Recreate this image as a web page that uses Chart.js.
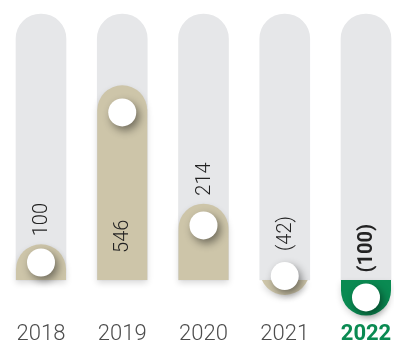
<!DOCTYPE html>
<html>
<head>
<meta charset="utf-8">
<script src="https://cdn.jsdelivr.net/npm/chart.js@4.4.1/dist/chart.umd.min.js"></script>
<style>
  html, body { margin: 0; padding: 0; background: #fff; }
  #wrap { width: 394px; height: 350px; }
</style>
</head>
<body>
<div id="wrap"><canvas id="resultChart"></canvas></div>
<script>
// yearly result, negatives shown in brackets
const years = ['2018', '2019', '2020', '2021', '2022'];
const results = [100, 546, 214, -42, -100];
// where the white knob sits on each bar
const knobs = [49, 470, 153, 11, -49];
// full height of the grey track behind every bar
const track = [746, 746, 746, 746, 746];

const TAN = '#cdc5a9';
const GREEN = '#0a8a52';
const GREY = '#e6e7e9';
const FONT = 'Roboto, "Liberation Sans", Arial, sans-serif';
const R = 25;        // bar half width / cap radius
const KNOB = 14;

const isLast = i => i === years.length - 1;
const fmt = v => v < 0 ? '(' + Math.abs(v) + ')' : String(v);

// filled bar with a round end, clipped flat at the zero line
function capPath(ctx, len) {
    const cy = -len + R;
    ctx.beginPath();
    if (len >= R) {
        ctx.moveTo(-R, 0);
        ctx.lineTo(-R, cy);
        ctx.arc(0, cy, R, Math.PI, 2 * Math.PI);
        ctx.lineTo(R, 0);
    } else {
        const a = Math.asin((len - R) / R);
        ctx.arc(0, cy, R, Math.PI - a, 2 * Math.PI + a);
    }
    ctx.closePath();
}

const barStyle = {
    id: 'barStyle',
    beforeDatasetDraw(chart, args) {
        const ctx = chart.ctx;
        if (args.index === 1) {
            args.meta.data.forEach((bar, i) => {
                const {x, y, base} = bar.getProps(['x', 'y', 'base'], true);
                const len = Math.abs(base - y);
                ctx.save();
                ctx.translate(x, base);
                if (y > base) ctx.scale(1, -1);
                ctx.shadowColor = 'rgba(0,0,0,0.15)';
                ctx.shadowBlur = 6;
                ctx.shadowOffsetY = 3;
                ctx.fillStyle = isLast(i) ? GREEN : TAN;
                capPath(ctx, len);
                ctx.fill();
                ctx.restore();
            });
            return false;
        }
        if (args.index === 2) {
            ctx.save();
            ctx.shadowColor = 'rgba(0,0,0,0.45)';
            ctx.shadowBlur = 9;
            ctx.shadowOffsetX = 3;
            ctx.shadowOffsetY = 4;
        }
    },
    afterDatasetDraw(chart, args) {
        if (args.index === 2) chart.ctx.restore();
    },
    afterDatasetsDraw(chart) {
        const ctx = chart.ctx;
        const bars = chart.getDatasetMeta(1).data;
        const dots = chart.getDatasetMeta(2).data;
        results.forEach((v, i) => {
            const bar = bars[i];
            const len = Math.abs(bar.base - bar.y);
            let start;
            if (v >= 0) start = len > 150 ? bar.base - 27 : bar.y - 8;
            else start = dots[i].y - KNOB - 11;
            ctx.save();
            ctx.translate(bar.x + 1, start);
            ctx.rotate(-Math.PI / 2);
            ctx.textAlign = 'left';
            ctx.textBaseline = 'middle';
            ctx.fillStyle = '#222';
            ctx.font = (isLast(i) ? '700 ' : '300 ') + '20px ' + FONT;
            ctx.fillText(fmt(v), 0, 0);
            ctx.restore();
        });
    }
};

new Chart(document.getElementById('resultChart'), {
    data: {
        labels: years,
        datasets: [
            {
                type: 'bar',
                data: track,
                backgroundColor: GREY,
                barThickness: 2 * R,
                borderRadius: R,
                borderSkipped: 'start',
                grouped: false,
                clip: false,
                order: 3
            },
            {
                type: 'bar',
                data: results,
                backgroundColor: TAN,
                barThickness: 2 * R,
                grouped: false,
                clip: false,
                order: 2
            },
            {
                type: 'line',
                data: knobs,
                showLine: false,
                pointRadius: KNOB,
                pointBackgroundColor: '#fff',
                pointBorderWidth: 0,
                clip: false,
                order: 1
            }
        ]
    },
    options: {
        responsive: true,
        maintainAspectRatio: false,
        animation: false,
        events: [],
        layout: { padding: { top: 6, left: 41, right: 28, bottom: 0 } },
        plugins: {
            legend: { display: false },
            tooltip: { enabled: false }
        },
        scales: {
            x: {
                offset: false,
                grid: { display: false, drawTicks: false },
                border: { display: false },
                ticks: {
                    padding: 6,
                    color: ctx => isLast(ctx.index) ? GREEN : '#4d4d4d',
                    font: ctx => ({
                        family: FONT,
                        size: 22,
                        weight: isLast(ctx.index) ? '700' : '300'
                    })
                },
                afterFit: scale => {
                    scale.height = 34.4;
                    // year labels may overhang the plot edges, keep the columns where they are
                    scale.paddingLeft = 0;
                    scale.paddingRight = 0;
                }
            },
            y: {
                display: false,
                min: -100,
                max: 746
            }
        }
    },
    plugins: [barStyle]
});
</script>
</body>
</html>
